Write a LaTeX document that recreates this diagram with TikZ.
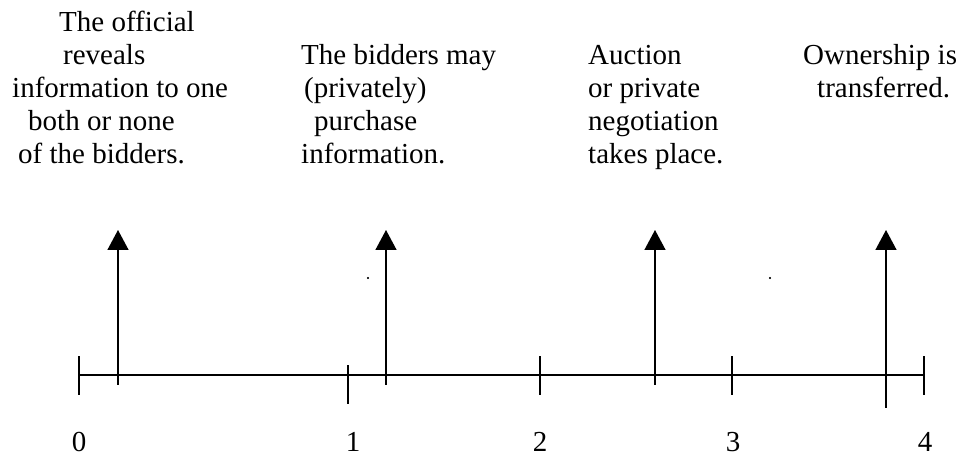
\documentclass[tikz,border=0pt]{standalone}
\usepackage{fontspec}
\setmainfont{Liberation Serif}
\usetikzlibrary{arrows.meta}

% lines of one event label, first baseline on top
\newcommand{\evlines}[1]{\begin{tabular}[t]{@{}l@{}}#1\end{tabular}}

\tikzset{
  evtext/.style={anchor=base west, inner sep=0pt, font=\fontsize{29}{33}\selectfont},
  evnum/.style={anchor=base, inner sep=0pt, font=\fontsize{29}{33}\selectfont},
  evarrow/.style={line width=1.5pt, -{Triangle[length=20pt,width=21pt]}},
  tline/.style={line width=1.5pt}
}

\begin{document}
\begin{tikzpicture}[x=1pt,y=1pt]
\useasboundingbox (0,0) rectangle (962,458);

% event labels
\node[evtext] (ev0) at (12,426) {\evlines{\hspace*{47pt}The official\\ \hspace*{51pt}reveals\\ information to one\\ \hspace*{16pt}both or none\\ \hspace*{6pt}of the bidders.}};
\node[evtext] (ev1) at (301,393) {\evlines{The bidders may\\ \hspace*{3pt}(privately)\\ \hspace*{13pt}purchase\\ information.}};
\node[evtext] (ev2) at (588,393) {\evlines{Auction\\ or private\\ negotiation\\ takes place.}};
\node[evtext] (ev3) at (803,393) {\evlines{Ownership is\\ \hspace*{14pt}transferred.}};

% time axis and ticks
\coordinate (ax0) at (79,83);
\coordinate (ax1) at (924,83);
\draw[tline] (ax0) -- (ax1);
\foreach \x/\lo/\hi [count=\i] in {79/63/102, 348/54/93, 540/63/102, 732/63/102, 924/63/102} {
  \coordinate (tk\i b) at (\x,\lo);
  \coordinate (tk\i t) at (\x,\hi);
  \draw[tline] (tk\i b) -- (tk\i t);
}

% period numbers
\foreach \x/\n in {79/0, 353/1, 540/2, 733/3, 925/4}
  \node[evnum] (num\n) at (\x,6) {\n};

% event arrows
\foreach \x/\lo [count=\i] in {118/73, 386/73, 655/73, 886/50} {
  \coordinate (ar\i b) at (\x,\lo);
  \coordinate (ar\i t) at (\x,228);
  \draw[evarrow] (ar\i b) -- (ar\i t);
}

\filldraw (368,180) circle (0.9pt);
\filldraw (770,180) circle (0.9pt);
\end{tikzpicture}
\end{document}
